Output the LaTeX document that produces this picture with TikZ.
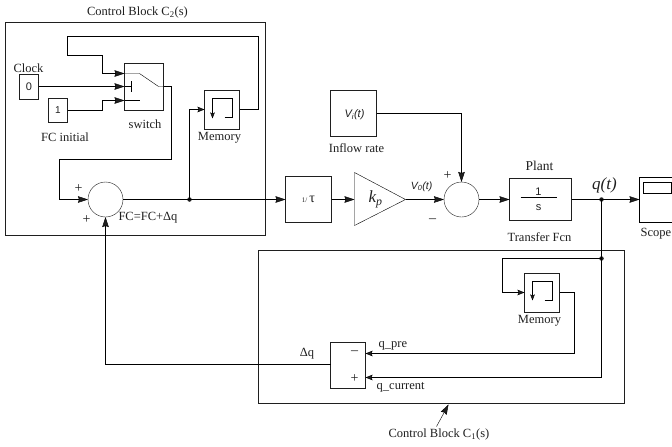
\documentclass[tikz,border=0pt]{standalone}
\usepackage{fontspec}
\setmainfont{Liberation Serif}
\newfontfamily\sansf{Liberation Sans}
\usetikzlibrary{arrows.meta}
\colorlet{ink}{black!88}
\tikzset{
  x=1pt,y=-1pt,
  line width=1pt,
  color=ink,
  block/.style={draw=ink,inner sep=0pt,outer sep=0pt,anchor=north west},
  sumnode/.style={draw=ink,circle,inner sep=0pt,outer sep=0pt,minimum size=35pt},
  wire/.style={-{Stealth[length=10pt,width=6.5pt,inset=1pt,fill=ink]}},
  wiresm/.style={-{Stealth[length=7pt,width=5.5pt,inset=1pt,fill=ink]}},
  dot/.style={circle,fill=ink,draw=none,inner sep=0pt,minimum size=4.5pt},
  lab/.style={inner sep=0pt,text=ink,font=\fontsize{12.5}{13}\selectfont},
}
\newcommand{\boxat}[5]{\node[block,minimum width=#3pt,minimum height=#4pt] (#5) at (#1,#2) {};}
\begin{document}
\begin{tikzpicture}
\useasboundingbox (-0.5,-0.5) rectangle (671.5,446.5);
% frames
\boxat{5}{22}{260}{213}{ctwo}
\boxat{258}{250}{366}{153}{cone}
% blocks
\boxat{19}{74}{19}{25}{clock}
\boxat{48}{98}{19}{24}{fcinit}
\boxat{124}{63}{39}{47}{sw}
\boxat{204}{90}{35}{39}{memtop}
\boxat{285}{176}{46}{46}{tau}
\boxat{330}{90}{46}{46}{vi}
\boxat{509}{178}{62}{42}{plant}
\boxat{524}{273}{35}{39}{membot}
\boxat{330}{342}{35}{46}{diffb}
\node[sumnode] (sumA) at (105,199) {};
\node[sumnode] (sumB) at (461,199) {};
\coordinate (ga) at (354,172);
\coordinate (gb) at (354,225);
\coordinate (gc) at (405,199);
\draw (ga) -- (gb) -- (gc) -- cycle;
\coordinate (gain) at (354,199);
% scope, open towards the page edge
\coordinate (scw) at (639,199);
\draw (674,177) -- (639,177) -- (639,222) -- (674,222);
% dots
\node[dot] (d1) at (189,199) {};
\node[dot] (d2) at (601,199) {};
\node[dot] (d3) at (601,258) {};
% switch internals
\coordinate (swa) at (124,73);
\coordinate (swb) at (124,86);
\coordinate (swc) at (124,100);
\coordinate (swo) at (163,86);
\draw (swa) -- (139,73) -- (158,86) -- (swo);
\draw (swb) -- (131,86);
\draw (131,80.5) -- (131,91.5);
\draw (swc) -- (139,100);
% wires C2
\draw[wire] (memtop.east |- 0,109) -- (258,109) -- (258,36) -- (67,36) -- (67,55) -- (102,55) -- (102,73) -- (swa);
\draw[wire] (clock.east |- 0,86) -- (swb);
\draw[wire] (fcinit.east |- 0,110) -- (102,110) -- (102,100) -- (swc);
\draw[wire] (swo) -- (171,86) -- (171,159) -- (59,159) -- (59,199) -- (sumA.west);
\draw[wire] (sumA.east) -- (tau.west);
\draw[wiresm] (d1.center) -- (189,109) -- (memtop.west |- 0,109);
\draw[wire] (tau.east) -- (gain);
\draw[wire] (gc) -- (sumB.west);
\draw[wire] (vi.east |- 0,113) -- (461,113) -- (sumB.north);
\draw[wire] (sumB.east) -- (plant.west);
\draw[wire] (plant.east) -- (scw);
\draw (d2.center) -- (d3.center);
\draw[wiresm] (d3.center) -- (502,258) -- (502,292) -- (membot.west |- 0,292);
\draw[wiresm] (membot.east |- 0,292) -- (574,292) -- (574,353) -- (diffb.east |- 0,353);
\draw[wiresm] (d3.center) -- (601,377) -- (diffb.east |- 0,377);
\draw[wire] (diffb.west |- 0,364) -- (105,364) -- (sumA.south);
% memory icons
\draw[-{Stealth[length=6pt,width=4.5pt,inset=1pt,fill=ink]}] (224,117) -- (232,117) -- (232,98) -- (212,98) -- (212,118);
\draw[-{Stealth[length=6pt,width=4.5pt,inset=1pt,fill=ink]}] (544,300) -- (552,300) -- (552,281) -- (532,281) -- (532,300);
% plant fraction, scope screen
\draw (520,197) -- (556,197);
\draw (643,182) rectangle (671,193);
% annotation arrow
\coordinate (ann) at (436,426);
\coordinate (annt) at (448,404);
\draw[wire] (ann) -- (annt);
% texts
\node[lab] (t1) at (137,12) {Control Block C\textsubscript{2}(s)};
\node[lab] (t2) at (28,67.5) {Clock};
\node[lab,font=\sansf\fontsize{11}{12}\selectfont] (t3) at (28.5,86.5) {0};
\node[lab,font=\sansf\fontsize{10}{12}\selectfont] (t4) at (57.5,110) {1};
\node[lab] (t5) at (64.5,137) {FC initial};
\node[lab] (t6) at (144.5,124) {switch};
\node[lab] (t7) at (219,137.5) {Memory};
\node[lab,font=\fontsize{14}{14}\selectfont] (t8) at (78,188) {+};
\node[lab,font=\fontsize{14}{14}\selectfont] (t9) at (86,219) {+};
\node[lab] (t10) at (147.5,217) {FC=FC+Δq};
\node[lab] (t11) at (308,199) {{\fontsize{7}{8}\selectfont 1\kern0pt/\kern2pt}{\fontsize{14}{14}\selectfont τ}};
\node[lab,font=\itshape\fontsize{17}{18}\selectfont] (t12) at (375,199) {k\textsubscript{p}};
\node[lab,font=\sansf\itshape\fontsize{10.5}{12}\selectfont] (t13) at (421,186) {V\textsubscript{0}(t)};
\node[lab,font=\fontsize{14}{14}\selectfont] (t14) at (432,220) {\textendash};
\node[lab,font=\fontsize{14}{14}\selectfont] (t15) at (447,175) {+};
\node[lab,font=\sansf\itshape\fontsize{11}{12}\selectfont] (t16) at (354,114) {V\textsubscript{i}(t)};
\node[lab] (t17) at (356,148) {Inflow rate};
\node[lab,font=\fontsize{13.5}{14}\selectfont] (t18) at (539,165) {Plant};
\node[lab] (t19) at (539,237) {Transfer Fcn};
\node[lab,font=\sansf\fontsize{11}{12}\selectfont] (t20) at (538,191) {1};
\node[lab,font=\sansf\fontsize{11}{12}\selectfont] (t21) at (538,207) {s};
\node[lab,font=\itshape\fontsize{17}{17}\selectfont] (t22) at (604,185) {q(t)};
\node[lab] (t23) at (655.5,233) {Scope};
\node[lab] (t24) at (539,320) {Memory};
\node[lab,anchor=west] (t25b) at (378,345) {q\_pre};
\node[lab,anchor=west] (t26) at (376,387) {q\_current};
\node[lab] (t27) at (306.5,353) {Δq};
\node[lab,font=\fontsize{14}{14}\selectfont] (t28) at (354,352) {\textendash};
\node[lab,font=\fontsize{14}{14}\selectfont] (t29) at (354,378) {+};
\node[lab] (t30) at (438.5,434) {Control Block C\textsubscript{1}(s)};
\end{tikzpicture}
\end{document}
